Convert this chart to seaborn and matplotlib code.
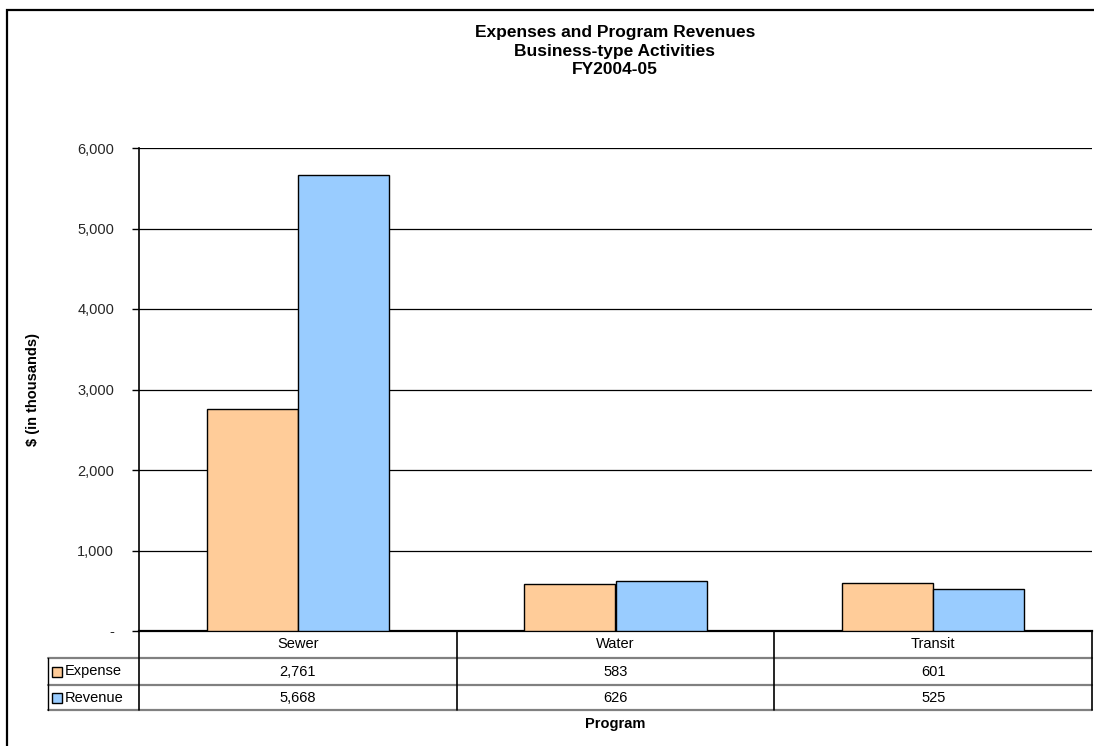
import matplotlib
matplotlib.use("Agg")
import matplotlib.pyplot as plt
import seaborn as sns
import pandas as pd
from matplotlib.lines import Line2D
from matplotlib.patches import Rectangle
from matplotlib.ticker import FuncFormatter

# ---- data ----
programs = ["Sewer", "Water", "Transit"]
series_names = ["Expense", "Revenue"]
expense = [2761, 583, 601]
revenue = [5668, 626, 525]
colors = ["#FFCC99", "#99CCFF"]
title_lines = ["Expenses and Program Revenues", "Business-type Activities", "FY2004-05"]
y_label = "$ (in thousands)"
x_label = "Program"
y_ticks = [0, 1000, 2000, 3000, 4000, 5000, 6000]

df = pd.DataFrame({
    "Program": programs * 2,
    "Series": [series_names[0]] * 3 + [series_names[1]] * 3,
    "Value": expense + revenue,
})

sns.set_theme(style="white")
plt.rcParams["font.family"] = ["Liberation Sans", "DejaVu Sans"]

W, H = 1094, 746
fig = plt.figure(figsize=(W / 100, H / 100), dpi=100)

def fx(px):
    return px / W

def fy(py):
    return 1 - py / H

FS = 10.5

L, R, T, B = 139, 1092, 148, 631
ax = fig.add_axes([fx(L), fy(B), fx(R) - fx(L), fy(T) - fy(B)])

sns.barplot(data=df, x="Program", y="Value", hue="Series", palette=colors,
            saturation=1, width=0.575, edgecolor="black", linewidth=1.0, ax=ax,
            legend=False, order=programs, hue_order=series_names, zorder=3)

ax.set_xlim(-0.5, 2.5)
ax.set_ylim(0, 6000)
ax.set_yticks(y_ticks)
ax.yaxis.set_major_formatter(FuncFormatter(lambda v, p: "-" if v == 0 else f"{int(v):,}"))
ax.tick_params(axis="y", which="both", left=True, length=5, width=1, color="black",
               labelsize=FS, pad=13, direction="out")
ax.tick_params(axis="x", bottom=False, labelbottom=False)
ax.set_xlabel("")
ax.set_ylabel("")
ax.yaxis.grid(True, color="black", linewidth=0.9, zorder=0)
ax.set_axisbelow(True)
ax.spines["top"].set_visible(False)
ax.spines["right"].set_visible(False)
ax.spines["left"].set_color("black")
ax.spines["left"].set_linewidth(1.2)
ax.spines["bottom"].set_color("black")
ax.spines["bottom"].set_linewidth(1.6)

# ---- title ----
for i, t in enumerate(title_lines):
    fig.text(fx(615), fy(33 + 18.5 * i), t, ha="center", va="center",
             fontsize=12.5, fontweight="bold", color="black")

# ---- y label ----
fig.text(fx(33), fy((T + B) / 2), y_label, rotation=90, ha="center", va="center",
         fontsize=FS, fontweight="bold", color="black")

# ---- data table ----
def hline(y, x0, x1, color="black", lw=1.0):
    fig.add_artist(Line2D([fx(x0), fx(x1)], [fy(y), fy(y)], color=color, lw=lw))

def vline(x, y0, y1, color="black", lw=1.0):
    fig.add_artist(Line2D([fx(x), fx(x)], [fy(y0), fy(y1)], color=color, lw=lw))

rows = [631, 658, 685, 710]
col_w = (R - L) / len(programs)
cols = [L + col_w * i for i in range(len(programs) + 1)]
LBL = 48

for y in rows[1:]:
    hline(y, LBL, R, color="#808080", lw=1.6)
vline(LBL, rows[1], rows[3])
for x in cols:
    vline(x, rows[0], rows[3], lw=1.2)

for i, p in enumerate(programs):
    cx = (cols[i] + cols[i + 1]) / 2
    fig.text(fx(cx), fy((rows[0] + rows[1]) / 2), p, ha="center", va="center",
             fontsize=FS, color="black")
    fig.text(fx(cx), fy((rows[1] + rows[2]) / 2), f"{expense[i]:,}", ha="center",
             va="center", fontsize=FS, color="black")
    fig.text(fx(cx), fy((rows[2] + rows[3]) / 2), f"{revenue[i]:,}", ha="center",
             va="center", fontsize=FS, color="black")

for j, name in enumerate(series_names):
    yc = (rows[1 + j] + rows[2 + j]) / 2
    fig.add_artist(Rectangle((fx(52), fy(yc + 5)), fx(62) - fx(52), fy(yc - 5) - fy(yc + 5),
                             facecolor=colors[j], edgecolor="black", lw=1.0))
    fig.text(fx(65), fy(yc), name, ha="left", va="center", fontsize=FS, color="black")

# ---- x label ----
fig.text(fx(615), fy(724), x_label, ha="center", va="center", fontsize=FS,
         fontweight="bold", color="black")

# ---- outer frame ----
fig.add_artist(Rectangle((fx(7), fy(760)), fx(1110) - fx(7), fy(10) - fy(760),
                         facecolor="none", edgecolor="black", lw=1.6, clip_on=False))

fig.savefig("out.png", dpi=100)
